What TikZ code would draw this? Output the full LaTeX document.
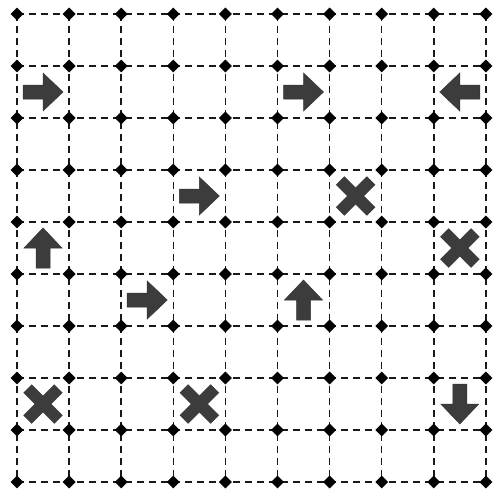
\documentclass[tikz,border=0pt]{standalone}
\usetikzlibrary{shapes.geometric}
\definecolor{markgray}{HTML}{3C3C3C}
\begin{document}
\begin{tikzpicture}[x=1pt,y=-1pt,
  gridline/.style={dash pattern=on 7pt off 5pt, line width=1.5pt, black!90},
  dot/.style={diamond, fill=black, inner sep=0pt, minimum size=13pt},
  arrowpic/.pic={\filldraw[fill=markgray, draw=black!80, line width=0.5pt]
      (-20,-7) -- (0,-7) -- (0,-19) -- (20,0) -- (0,19) -- (0,7) -- (-20,7) -- cycle;},
  crosspic/.pic={\draw[markgray, line width=12pt] (-15.5,-15.5) -- (15.5,15.5) (-15.5,15.5) -- (15.5,-15.5);}
]
\fill[white] (0,0) rectangle (495,491);
\useasboundingbox (0,0) rectangle (495,491);
\foreach \i in {0,...,9} {
  \foreach \j in {0,...,9} {
    \coordinate (p\i-\j) at ({17+52.1*\i},{14+52*\j});
  }
}
\foreach \k in {0,...,9} {
  \draw[gridline] (p0-\k) -- (p9-\k);
  \draw[gridline] (p\k-0) -- (p\k-9);
}
\foreach \i in {0,...,9} {
  \foreach \j in {0,...,9} {
    \node[dot] (d\i-\j) at (p\i-\j) {};
  }
}
% cell centres
\foreach \i/\j/\r in {0/1/0, 5/1/0, 3/3/0, 2/5/0, 8/1/180, 0/4/90, 5/5/90, 8/7/-90} {
  \pic[rotate=\r] at ({43+52.1*\i},{40+52*\j}) {arrowpic};
}
\foreach \i/\j in {6/3, 8/4, 0/7, 3/7} {
  \pic at ({43+52.1*\i},{40+52*\j}) {crosspic};
}
\end{tikzpicture}
\end{document}
